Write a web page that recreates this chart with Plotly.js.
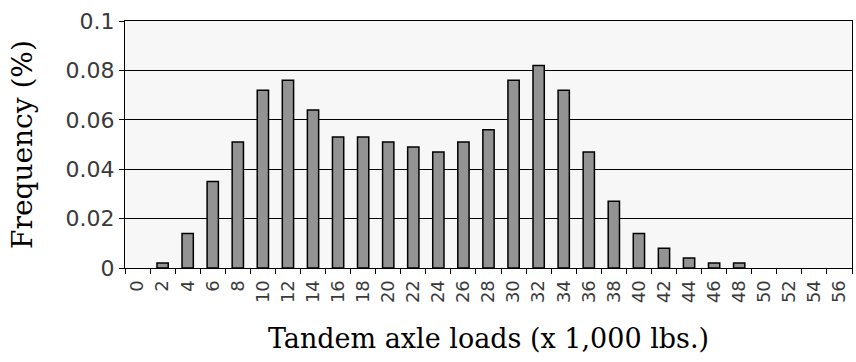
<!DOCTYPE html>
<html>
<head>
<meta charset="utf-8">
<script src="https://cdn.plot.ly/plotly-3.0.1.min.js"></script>
<style>
  html, body { margin: 0; padding: 0; background: #ffffff; }
  #chart { width: 856px; height: 362px; }
</style>
</head>
<body>
<div id="chart"></div>
<script>
// Tandem axle load categories (x 1,000 lbs.)
const loads = ["0","2","4","6","8","10","12","14","16","18","20","22","24","26","28",
               "30","32","34","36","38","40","42","44","46","48","50","52","54","56"];
// Frequency (%)
const frequency = [0, 0.002, 0.014, 0.035, 0.051, 0.072, 0.076, 0.064, 0.053, 0.053,
                   0.051, 0.049, 0.047, 0.051, 0.056, 0.076, 0.082, 0.072, 0.047, 0.027,
                   0.014, 0.008, 0.004, 0.002, 0.002, 0, 0, 0, 0];
const yTicks = [0, 0.02, 0.04, 0.06, 0.08, 0.1];
const yTickText = ["0", "0.02", "0.04", "0.06", "0.08", "0.1"];

const trace = {
  type: "bar",
  x: loads,
  y: frequency,
  marker: {
    color: "#939393",
    line: { color: "#000000", width: frequency.map(v => (v > 0 ? 1.5 : 0)) }
  },
  hoverinfo: "x+y"
};

const layout = {
  width: 856,
  height: 362,
  margin: { l: 125, r: 4, t: 21, b: 94 },
  paper_bgcolor: "#ffffff",
  plot_bgcolor: "#f7f7f7",
  bargap: 0.55,
  showlegend: false,
  xaxis: {
    type: "category",
    tickson: "boundaries",
    ticks: "outside",
    ticklen: 5,
    tickcolor: "#000000",
    tickwidth: 1,
    tickangle: -90,
    ticklabelstandoff: 4,
    showline: true,
    linecolor: "#000000",
    linewidth: 1,
    mirror: true,
    showgrid: false,
    tickfont: { family: "DejaVu Sans, sans-serif", size: 18, color: "#3a3a3a" },
    title: {
      text: "Tandem axle loads (x 1,000 lbs.)",
      font: { family: "DejaVu Serif, serif", size: 27, color: "#000000" },
      standoff: 26
    }
  },
  yaxis: {
    range: [0, 0.1],
    tickvals: yTicks,
    ticktext: yTickText,
    ticks: "outside",
    ticklen: 5,
    tickcolor: "#000000",
    showline: true,
    linecolor: "#000000",
    linewidth: 1,
    mirror: true,
    showgrid: true,
    gridcolor: "#000000",
    gridwidth: 1,
    zeroline: false,
    tickfont: { family: "DejaVu Sans, sans-serif", size: 22, color: "#3a3a3a" },
    title: {
      text: "Frequency (%)",
      font: { family: "DejaVu Serif, serif", size: 28, color: "#000000" },
      standoff: 24
    }
  }
};

Plotly.newPlot("chart", [trace], layout, { displayModeBar: false, staticPlot: true });
</script>
</body>
</html>
